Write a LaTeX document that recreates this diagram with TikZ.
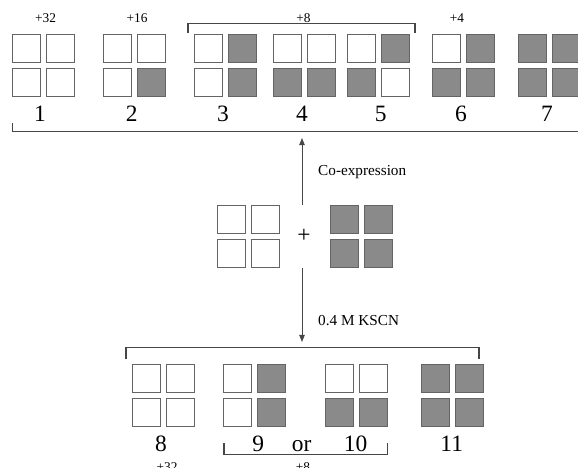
\documentclass[tikz,border=0pt]{standalone}
\usepackage{fontspec}
\setmainfont{Liberation Serif}
\usetikzlibrary{arrows.meta, positioning}

\definecolor{subfill}{RGB}{138,138,138}
\definecolor{subline}{RGB}{100,100,100}
\definecolor{ink}{RGB}{70,70,70}

% one tetramer: subunits a b / c d, top left corner at #2
\newcommand{\tetramer}[6]{%
  \begin{scope}[shift={(#2)}]
    \node[#3] (#1a) at (14.5,14.5) {};
    \node[#4] (#1b) at (48.5,14.5) {};
    \node[#5] (#1c) at (14.5,48.5) {};
    \node[#6] (#1d) at (48.5,48.5) {};
  \end{scope}}

\begin{document}
\begin{tikzpicture}[
    x=0.03cm, y=-0.03cm,
    sub/.style={draw=subline, line width=1pt, minimum size=0.84cm, inner sep=0pt},
    wt/.style={sub, fill=white},
    mut/.style={sub, fill=subfill},
    num/.style={anchor=base, inner sep=0pt, font=\fontsize{20}{20}\selectfont},
    tag/.style={anchor=base, inner sep=0pt, font=\fontsize{11.4}{12}\selectfont},
    note/.style={anchor=west, inner sep=0pt, font=\fontsize{13}{15}\selectfont},
    bracket/.style={draw=ink, line width=0.9pt},
    arrow/.style={-{Triangle[length=6pt, width=4.6pt]}, draw=ink, line width=0.8pt}
]
\useasboundingbox (0,0) rectangle (578,468);
\clip (0,0) rectangle (578,468);

% Top row: possible tetramers 1--7
\foreach \n/\x/\lx/\a/\b/\c/\d in {
    1/11.7/40/wt/wt/wt/wt,
    2/102.7/131.7/wt/wt/wt/mut,
    3/194/223/wt/mut/wt/mut,
    4/273.3/302/wt/wt/mut/mut,
    5/347/380.7/wt/mut/mut/wt,
    6/432/461/wt/mut/mut/mut,
    7/518/547/mut/mut/mut/mut}
{
    \tetramer{t\n}{\x,34}{\a}{\b}{\c}{\d}
    \node[num] (n\n) at (\lx,121.7) {\n};
}

\node[tag] (w1) at (45.5,22.7) {+32};
\node[tag] (w2) at (137,22.7) {+16};
\node[tag] (w3) at (303.5,22.7) {+8};
\node[tag] (w6) at (457,22.7) {+4};

% brackets over 3--5 and under the whole row
\coordinate (b3) at (188,33);
\coordinate (b5) at (415,33);
\draw[bracket] (b3) -- ++(0,-9.5) -| (b5);
\coordinate (r1) at (12.3,123);
\draw[bracket] (r1) -- ++(0,8.7) -- ++(590,0);

% Middle: the two homotetramers
\tetramer{hw}{217,205}{wt}{wt}{wt}{wt}
\tetramer{hm}{330,205}{mut}{mut}{mut}{mut}
\node[anchor=center, inner sep=0pt, font=\fontsize{20}{20}\selectfont] (plus) at (304,236) {+};

\coordinate (up0) at (302,205);
\coordinate (up1) at (302,138);
\draw[arrow] (up0) -- (up1);
\node[note] (coexp) at (318,172) {Co-expression};

\coordinate (dn0) at (302,268);
\coordinate (dn1) at (302,342);
\draw[arrow] (dn0) -- (dn1);
\node[note] (kscn) at (318,321) {0.4 M KSCN};

% Bottom row: 8--11 after KSCN
\coordinate (g8) at (126,359.3);
\coordinate (g11) at (479,359.3);
\draw[bracket] (g8) -- ++(0,-11.6) -| (g11);

\foreach \n/\x/\lx/\a/\b/\c/\d in {
    8/131.7/161/wt/wt/wt/wt,
    9/222.7/258.3/wt/mut/wt/mut,
    10/325/355.7/wt/wt/mut/mut,
    11/421/451.7/mut/mut/mut/mut}
{
    \tetramer{t\n}{\x,364.3}{\a}{\b}{\c}{\d}
    \node[num] (n\n) at (\lx,451.7) {\n};
}
\node[num] (or) at (301.7,451.7) {or};

\coordinate (k9) at (224,443);
\coordinate (k10) at (387.3,443);
\draw[bracket] (k9) -- ++(0,11.3) -| (k10);

\node[tag] (w8) at (167,471) {+32};
\node[tag] (w9) at (303,471) {+8};

\end{tikzpicture}
\end{document}
